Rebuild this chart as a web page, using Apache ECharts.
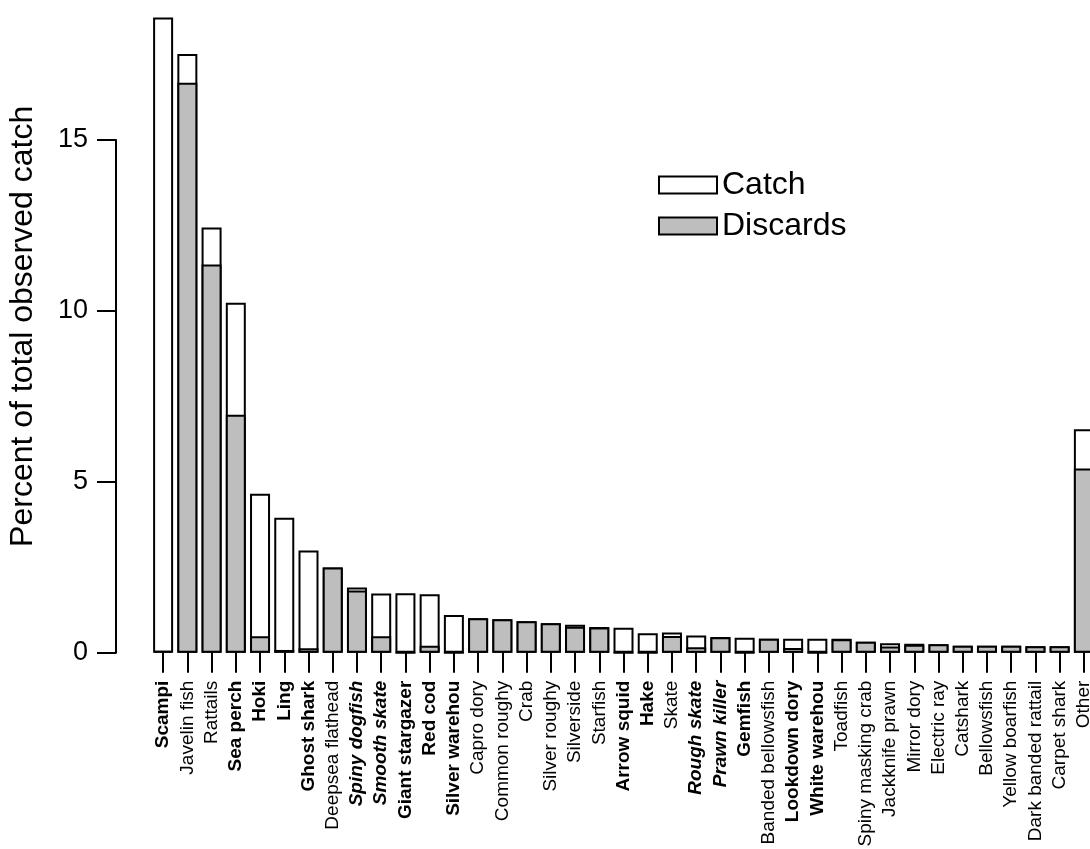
<html>
<head>
<meta charset="utf-8">
<script src="https://cdn.jsdelivr.net/npm/echarts@6/dist/echarts.min.js"></script>
<style>
  body { margin: 0; background: #fff; }
  #chart { width: 1090px; height: 849px; }
</style>
</head>
<body>
<div id="chart"></div>

<script type="text/javascript">

// species in plotted order
var species = ['Scampi','Javelin fish','Rattails','Sea perch','Hoki','Ling','Ghost shark','Deepsea flathead',
  'Spiny dogfish','Smooth skate','Giant stargazer','Red cod','Silver warehou','Capro dory','Common roughy',
  'Crab','Silver roughy','Silverside','Starfish','Arrow squid','Hake','Skate','Rough skate','Prawn killer',
  'Gemfish','Banded bellowsfish','Lookdown dory','White warehou','Toadfish','Spiny masking crab',
  'Jackknife prawn','Mirror dory','Electric ray','Catshark','Bellowsfish','Yellow boarfish',
  'Dark banded rattail','Carpet shark','Other'];

// percent of total observed catch
var catchPct = [18.59, 17.52, 12.44, 10.24, 4.65, 3.95, 2.99, 2.49, 1.91, 1.73, 1.74, 1.71, 1.10, 1.01, 0.98,
  0.92, 0.86, 0.82, 0.75, 0.73, 0.57, 0.59, 0.50, 0.46, 0.44, 0.41, 0.41, 0.41, 0.41, 0.32,
  0.28, 0.26, 0.25, 0.20, 0.20, 0.20, 0.19, 0.19, 6.54];

var discardPct = [0.05, 16.68, 11.36, 6.96, 0.48, 0.08, 0.13, 2.49, 1.82, 0.48, 0, 0.20, 0, 1.01, 0.98,
  0.92, 0.86, 0.76, 0.74, 0, 0, 0.49, 0.16, 0.45, 0, 0.41, 0.14, 0, 0.39, 0.32,
  0.18, 0.23, 0.25, 0.20, 0.20, 0.20, 0.19, 0.19, 5.39];

// label styling on the x axis
var boldNames = ['Scampi','Sea perch','Hoki','Ling','Ghost shark','Giant stargazer','Red cod','Silver warehou',
  'Arrow squid','Hake','Gemfish','Lookdown dory','White warehou'];
var boldItalicNames = ['Spiny dogfish','Smooth skate','Rough skate','Prawn killer'];

var yTicks = [0, 5, 10, 15];

var font = 'Liberation Sans, Arial, sans-serif';
var grey = '#bebebe';

var chart = echarts.init(document.getElementById('chart'));

var option = {
  animation: false,
  textStyle: { fontFamily: font, color: '#000' },
  grid: [
    { left: 151, top: 0, width: 945, height: 652.7, outerBoundsMode: 'none', containLabel: false },
    { left: 116, top: 140, width: 10, height: 512.7, outerBoundsMode: 'none', containLabel: false }
  ],
  legend: {
    data: ['Catch', 'Discards'],
    orient: 'vertical',
    left: 653,
    top: 164,
    icon: 'rect',
    itemWidth: 58,
    itemHeight: 17,
    itemGap: 9,
    textStyle: { fontSize: 32, fontFamily: font, color: '#000', padding: [0, 0, 0, 0] }
  },
  xAxis: [
    {
      type: 'category',
      gridIndex: 0,
      data: species,
      axisLine: { show: false },
      axisTick: { show: true, alignWithLabel: true, interval: 0, length: 20,
        lineStyle: { color: '#000', width: 2 } },
      axisLabel: {
        interval: 0,
        rotate: 90,
        margin: 28,
        fontSize: 19,
        color: '#000',
        formatter: function (v) {
          if (boldItalicNames.indexOf(v) >= 0) return '{bi|' + v + '}';
          if (boldNames.indexOf(v) >= 0) return '{b|' + v + '}';
          return '{n|' + v + '}';
        },
        rich: {
          n: { fontSize: 19, fontFamily: font, color: '#000' },
          b: { fontSize: 19, fontFamily: font, color: '#000', fontWeight: 'bold' },
          bi: { fontSize: 19, fontFamily: font, color: '#000', fontWeight: 'bold', fontStyle: 'italic' }
        }
      }
    },
    { type: 'value', gridIndex: 1, show: false }
  ],
  yAxis: [
    {
      type: 'value',
      gridIndex: 0,
      min: 0,
      max: 19.1,
      name: 'Percent of total observed catch',
      nameLocation: 'middle',
      nameRotate: 90,
      nameGap: 112,
      nameTextStyle: { fontSize: 32, fontFamily: font, color: '#000' },
      axisLine: { show: false },
      axisTick: { show: false },
      axisLabel: { show: false },
      splitLine: { show: false }
    },
    {
      type: 'value',
      gridIndex: 1,
      min: yTicks[0],
      max: yTicks[yTicks.length - 1],
      interval: 5,
      axisLine: { show: true, lineStyle: { color: '#000', width: 2 } },
      axisTick: { show: true, length: 19, lineStyle: { color: '#000', width: 2 } },
      axisLabel: { fontSize: 27, color: '#000', margin: 28, fontFamily: font },
      splitLine: { show: false }
    }
  ],
  series: [
    {
      name: 'Catch',
      type: 'bar',
      xAxisIndex: 0,
      yAxisIndex: 0,
      data: catchPct,
      barWidth: 20,
      barGap: '-100%',
      itemStyle: { color: '#fff', borderColor: '#000', borderWidth: 2 }
    },
    {
      name: 'Discards',
      type: 'bar',
      xAxisIndex: 0,
      yAxisIndex: 0,
      data: discardPct,
      barWidth: 20,
      barGap: '-100%',
      itemStyle: { color: grey, borderColor: '#000', borderWidth: 2 }
    }
  ]
};

chart.setOption(option);

</script>
</body>
</html>
